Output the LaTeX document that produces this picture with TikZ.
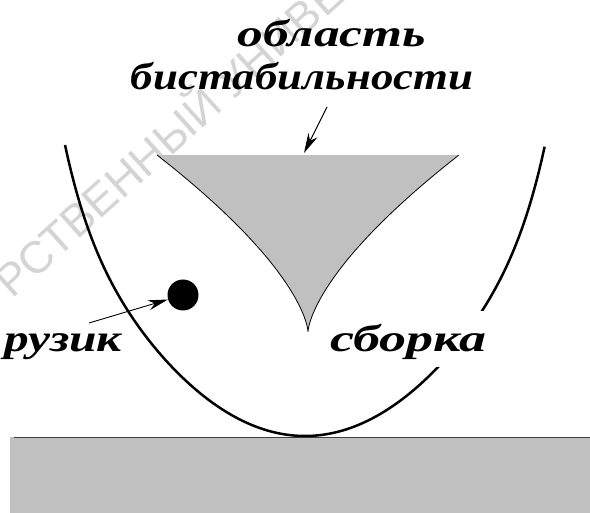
\documentclass[tikz,border=0pt]{standalone}
\usepackage{fontspec}
\usepackage{graphicx}
\setmainfont{Liberation Serif}
\newfontfamily\wmfont{Liberation Sans}
\usetikzlibrary{arrows.meta}
\definecolor{groundgray}{HTML}{C0C0C0}
\definecolor{wmgray}{HTML}{D4D4D4}
\begin{document}
\begin{tikzpicture}[x=1pt,y=-1pt,
  lbl/.style={font=\fontsize{38}{43}\selectfont\bfseries\itshape, inner sep=0pt},
  wm/.style={font=\wmfont\fontsize{45}{50}\selectfont, text=wmgray, inner sep=0pt},
  ucurve/.style={line width=2.5pt},
  cuspline/.style={line width=0.8pt},
  ptr/.style={line width=0.9pt, -{Stealth[length=20pt,width=10pt]}},
]
\useasboundingbox (0,0) rectangle (590,513);
% watermark
\begin{scope}
\clip (0,0) rectangle (590,513);
\node[wm, anchor=base west, rotate=42] (wmark) at (12,300) {РСТВЕННЫЙ УНИВЕРСИТЕТ};
\end{scope}
% ground
\fill[groundgray] (10,437) rectangle (590,513);
\draw[line width=1.5pt, black!75] (14,437.5) -- (590,437.5);
% bistability region (cusp)
\fill[groundgray] plot[domain=0:1, samples=60, variable=\t] ({308-151*(1-\t)^3},{332-177*(1-\t)^2})
  -- plot[domain=0:1, samples=60, variable=\t] ({308+151*\t^3},{332-177*\t^2}) -- cycle;
\draw[cuspline] plot[domain=0:1, samples=60, variable=\t] ({308-151*(1-\t)^3},{332-177*(1-\t)^2})
  -- plot[domain=0:1, samples=60, variable=\t] ({308+151*\t^3},{332-177*\t^2});
% potential well
\draw[ucurve] plot[domain=-1:1, samples=150, variable=\t] ({305+240*\t},{436-224*\t*\t-67*(\t*\t)^5});
% labels
\node[lbl, anchor=base] (obl) at (332,47) {\scalebox{1.35}[1]{область}};
\node[lbl, anchor=base] (bist) at (302,90) {\scalebox{1.18}[1]{бистабильности}};
\node[lbl, anchor=base east] (gruz) at (122,352) {\scalebox{1.3}[1]{рузик}};
\node[lbl, anchor=base west, fill=white, inner xsep=5pt, text height=41pt, text depth=15pt] (sbor) at (325,352) {\scalebox{1.42}[1]{сборка}};
% ball
\node[circle, fill=black, minimum size=31pt, inner sep=0pt] (dot) at (183,295) {};
% arrows
\coordinate (a1s) at (327,107);
\coordinate (a1e) at (304,153);
\draw[ptr] (a1s) -- (a1e);
\coordinate (a2s) at (89,323);
\draw[ptr] (a2s) -- (dot);
\end{tikzpicture}
\end{document}
